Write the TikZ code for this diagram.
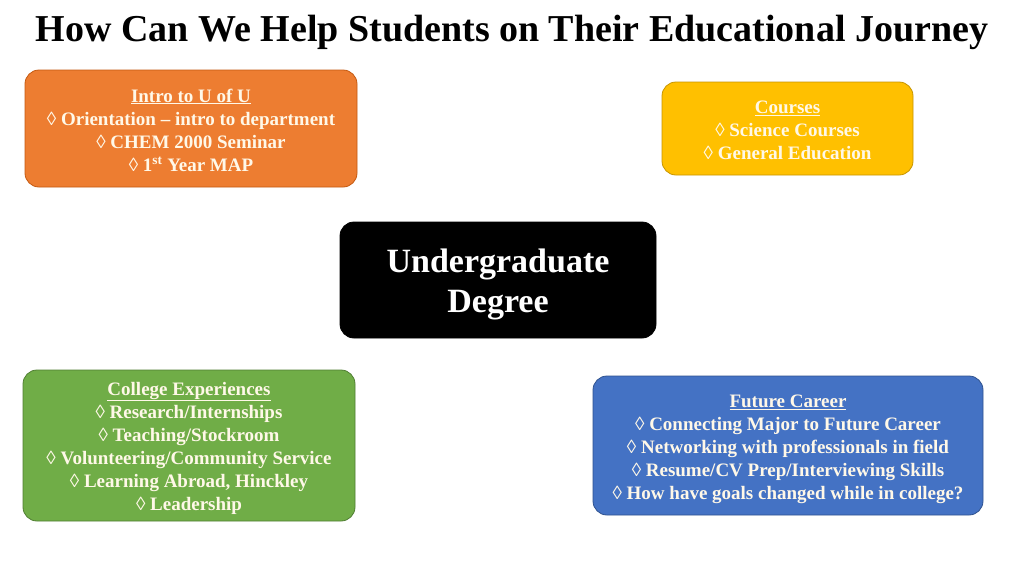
\documentclass[tikz,border=0pt]{standalone}
\usepackage{fontspec}
\setmainfont{Liberation Serif}
\definecolor{orangebox}{HTML}{ED7D31}
\definecolor{orangeedge}{HTML}{C55A11}
\definecolor{yellowbox}{HTML}{FFC000}
\definecolor{yellowedge}{HTML}{C79500}
\definecolor{greenbox}{HTML}{70AD47}
\definecolor{greenedge}{HTML}{507E32}
\definecolor{bluebox}{HTML}{4472C4}
\definecolor{blueedge}{HTML}{2F528F}
\definecolor{boxtext}{HTML}{FFF8E8}
\begin{document}
\begin{tikzpicture}[x=1pt,y=-1pt,
  infobox/.style={rounded corners=14pt,line width=0.8pt},
  infotext/.style={text=boxtext,font=\bfseries\fontsize{19}{23}\selectfont,align=center},
  centertext/.style={text=white,font=\bfseries\fontsize{34}{40}\selectfont,align=center},
  titletext/.style={font=\bfseries\fontsize{38}{44}\selectfont}]
\useasboundingbox (0,0) rectangle (1024,576);
\fill[white] (0,0) rectangle (1024,576);
\node[titletext] (title) at (512,32) {How Can We Help Students on Their Educational Journey};
\draw[infobox,fill=orangebox,draw=orangeedge] (25,70) rectangle (357,187);
\node[infotext] (intro) at (191,130) {\underline{Intro to U of U}\\◊ Orientation – intro to department\\◊ CHEM 2000 Seminar\\◊ 1\textsuperscript{st} Year MAP};
\draw[infobox,fill=yellowbox,draw=yellowedge] (662,82) rectangle (913,175);
\node[infotext] (courses) at (787.5,130) {\underline{Courses}\\◊ Science Courses\\◊ General Education};
\draw[infobox,fill=black,draw=black] (340,222) rectangle (656,338);
\node[centertext] (degree) at (498,284) {Undergraduate\\Degree};
\draw[infobox,fill=greenbox,draw=greenedge] (23,370) rectangle (355,521);
\node[infotext] (college) at (189,448) {\underline{College Experiences}\\◊ Research/Internships\\◊ Teaching/Stockroom\\◊ Volunteering/Community Service\\◊ Learning Abroad, Hinckley\\◊ Leadership};
\draw[infobox,fill=bluebox,draw=blueedge] (593,376) rectangle (983,515);
\node[infotext] (career) at (788,449) {\underline{Future Career}\\◊ Connecting Major to Future Career\\◊ Networking with professionals in field\\◊ Resume/CV Prep/Interviewing Skills\\◊ How have goals changed while in college?};
\end{tikzpicture}
\end{document}
